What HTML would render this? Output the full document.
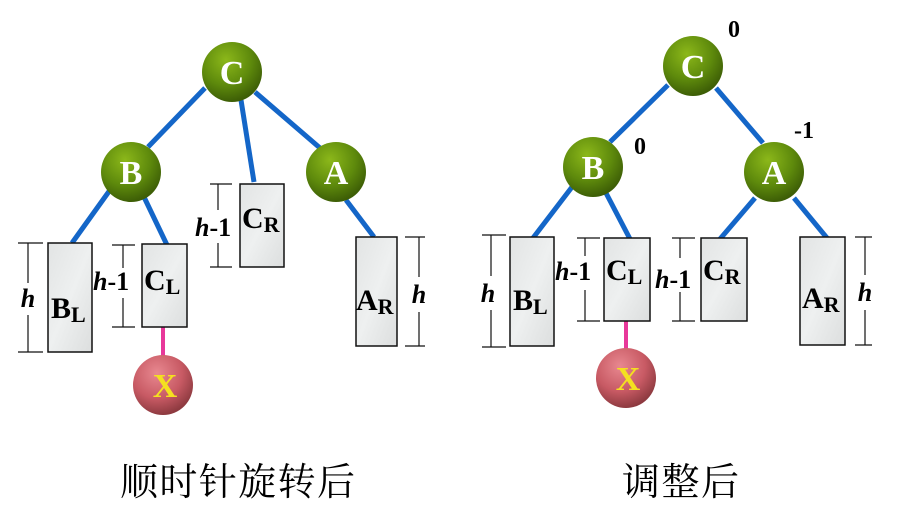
<!DOCTYPE html>
<html><head><meta charset="utf-8"><style>
body{margin:0;background:#fff;}
svg{display:block}
.t{font-family:"Liberation Serif",serif;font-weight:bold;}
</style></head><body>
<svg width="900" height="520" viewBox="0 0 900 520" xmlns="http://www.w3.org/2000/svg">
<defs>
<radialGradient id="g" cx="40%" cy="30%" r="70%"><stop offset="0" stop-color="#8cb81a"/><stop offset="0.6" stop-color="#5e8a0c"/><stop offset="1" stop-color="#3d5e06"/></radialGradient>
<radialGradient id="p" cx="40%" cy="30%" r="70%"><stop offset="0" stop-color="#e88890"/><stop offset="0.6" stop-color="#c85a64"/><stop offset="1" stop-color="#8e3a40"/></radialGradient>
<linearGradient id="s" x1="0" y1="0" x2="1" y2="1"><stop offset="0" stop-color="#e2e4e4"/><stop offset="0.5" stop-color="#eef0f0"/><stop offset="1" stop-color="#dcdede"/></linearGradient>
</defs>
<g stroke="#1466c8" stroke-width="5">
<line x1="205" y1="88" x2="148" y2="147"/><line x1="241" y1="100" x2="254" y2="182"/><line x1="255" y1="92" x2="320" y2="148"/>
<line x1="110" y1="190" x2="72" y2="243"/><line x1="144" y1="197" x2="167" y2="245"/><line x1="346" y1="200" x2="374" y2="237"/>
<line x1="668" y1="85" x2="610" y2="142"/><line x1="716" y1="88" x2="763" y2="143"/>
<line x1="572" y1="187" x2="533" y2="238"/><line x1="606" y1="193" x2="630" y2="239"/>
<line x1="755" y1="198" x2="720" y2="239"/><line x1="794" y1="198" x2="827" y2="238"/>
</g>
<g stroke="#e8389a" stroke-width="4"><line x1="163" y1="327" x2="163" y2="356"/><line x1="626" y1="321" x2="626" y2="350"/></g>
<g fill="url(#s)" stroke="#111" stroke-width="1.5">
<rect x="48" y="243" width="44" height="109"/><rect x="142" y="244" width="45" height="83"/><rect x="240" y="184" width="44" height="83"/><rect x="356" y="237" width="41" height="109"/>
<rect x="510" y="237" width="44" height="109"/><rect x="604" y="238" width="46" height="83"/><rect x="701" y="238" width="46" height="83"/><rect x="800" y="237" width="45" height="108"/>
</g>
<g stroke="#111" stroke-width="1.2" fill="none">
<path d="M18 243H43M18 352H43M28 243V283M28 315V352"/>
<path d="M112 245H135M112 327H135M123 245V268M123 298V327"/>
<path d="M210 184H232M210 267H232M218 184V210M218 243V267"/>
<path d="M405 237H425M405 346H425M419 237V277M419 312V346"/>
<path d="M482 235H506M482 347H506M491 235V276M491 310V347"/>
<path d="M577 238H600M577 321H600M585 238V256M585 290V321"/>
<path d="M672 238H695M672 321H695M680 238V258M680 292V321"/>
<path d="M855 237H872M855 345H872M865 237V275M865 310V345"/>
</g>
<g class="t" font-size="26" fill="#000">
<text x="28" y="307" text-anchor="middle" font-style="italic">h</text>
<text x="93" y="290"><tspan font-style="italic">h</tspan>-1</text>
<text x="195" y="236"><tspan font-style="italic">h</tspan>-1</text>
<text x="419" y="303" text-anchor="middle" font-style="italic">h</text>
<text x="488" y="302" text-anchor="middle" font-style="italic">h</text>
<text x="555" y="280"><tspan font-style="italic">h</tspan>-1</text>
<text x="655" y="288"><tspan font-style="italic">h</tspan>-1</text>
<text x="865" y="301" text-anchor="middle" font-style="italic">h</text>
<text x="51" y="318" font-size="30">B<tspan font-size="22" dy="4">L</tspan></text>
<text x="144" y="290" font-size="30">C<tspan font-size="22" dy="4">L</tspan></text>
<text x="242" y="228" font-size="30">C<tspan font-size="22" dy="4">R</tspan></text>
<text x="356" y="310" font-size="30">A<tspan font-size="22" dy="4">R</tspan></text>
<text x="513" y="310" font-size="30">B<tspan font-size="22" dy="4">L</tspan></text>
<text x="606" y="280" font-size="30">C<tspan font-size="22" dy="4">L</tspan></text>
<text x="703" y="280" font-size="30">C<tspan font-size="22" dy="4">R</tspan></text>
<text x="802" y="308" font-size="30">A<tspan font-size="22" dy="4">R</tspan></text>
<text x="734" y="37" text-anchor="middle" font-size="24">0</text>
<text x="640" y="154" text-anchor="middle" font-size="24">0</text>
<text x="804" y="138" text-anchor="middle" font-size="24">-1</text>
</g>
<g>
<circle cx="232" cy="72" r="30" fill="url(#g)"/><circle cx="131" cy="172" r="30" fill="url(#g)"/><circle cx="336" cy="172" r="30" fill="url(#g)"/>
<circle cx="693" cy="66" r="30" fill="url(#g)"/><circle cx="593" cy="167" r="30" fill="url(#g)"/><circle cx="774" cy="172" r="30" fill="url(#g)"/>
<circle cx="163" cy="385" r="30" fill="url(#p)"/><circle cx="626" cy="378" r="30" fill="url(#p)"/>
</g>
<g class="t" font-size="34" fill="#fff" text-anchor="middle">
<text x="232" y="84">C</text><text x="131" y="184">B</text><text x="336" y="184">A</text>
<text x="693" y="78">C</text><text x="593" y="179">B</text><text x="774" y="184">A</text>
<text x="165" y="397" fill="#f4e020">X</text><text x="628" y="390" fill="#f4e020">X</text>
</g>
<g font-family="'Liberation Serif','Noto Serif CJK SC',serif" font-size="38" fill="#000">
<text x="120" y="495" textLength="235">顺时针旋转后</text>
<text x="622" y="495" textLength="117">调整后</text>
</g>
</svg>
</body></html>
